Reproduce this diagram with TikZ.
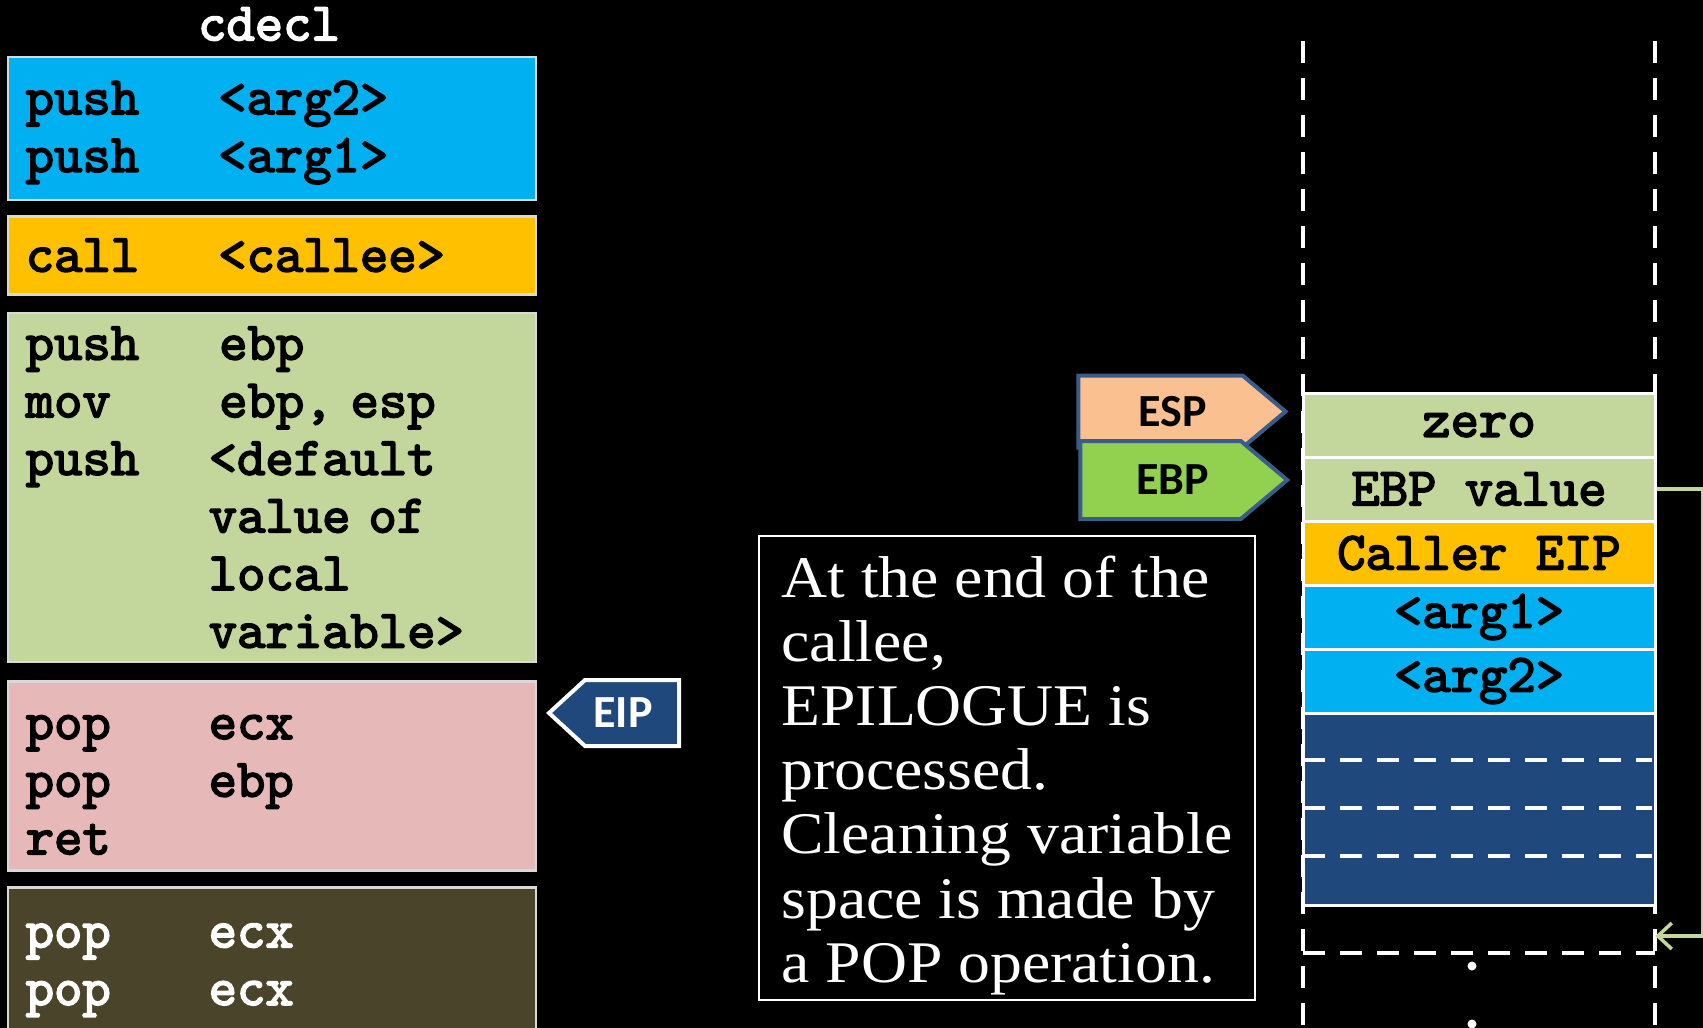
\documentclass[tikz,border=0pt]{standalone}
\usepackage{fontspec}
\usepackage{tikz}
\usetikzlibrary{arrows,arrows.meta,calc}
\usetikzlibrary{positioning,shapes}
\newfontfamily\tagfont{Carlito}
\newfontfamily\notefont[FakeStretch=1.08]{Liberation Serif}
\newfontfamily\asmfont[FakeBold=3]{lmmono10-regular.otf}
\definecolor{argblue}{HTML}{00B0F0}
\definecolor{callorange}{HTML}{FFC000}
\definecolor{prolgreen}{HTML}{C3D69B}
\definecolor{epilpink}{HTML}{E6B9B8}
\definecolor{cleanolive}{HTML}{4A452A}
\definecolor{regblue}{HTML}{1F497D}
\definecolor{tagedge}{HTML}{385D8A}
\definecolor{espfill}{HTML}{FAC090}
\definecolor{ebpfill}{HTML}{92D050}
\newcommand{\asm}{\asmfont\fontsize{54}{57.6}\selectfont}
\newcommand{\op}[2][192.5pt]{\makebox[#1][l]{#2}}
\tikzstyle{code}=[rectangle, draw=white!85!black, line width=2.5pt, text=black,
		minimum width=528pt, text width=492pt, inner xsep=18pt, inner ysep=0pt,
		align=left, font=\asm]
\tikzstyle{cell}=[rectangle, draw=white, line width=3pt, text=black,
		minimum width=352pt, minimum height=64pt, inner sep=0pt, font=\asm]
\tikzstyle{wall}=[white, line width=4pt, dash pattern=on 22pt off 15pt]
\tikzstyle{regtag}=[signal, line width=4pt, minimum width=207pt, inner sep=0pt,
		signal pointer angle=80, font=\tagfont\bfseries\fontsize{46}{46}\selectfont]

\begin{document}
\begin{tikzpicture}[x=1pt, y=1pt]

  \fill[black] (0,0) rectangle (1703,-1028);
  \useasboundingbox (0,0) rectangle (1703,-1028);

  \node (title) at (269,-24) [text=white, font=\asm] {cdecl};

  % caller and callee code
  \node (args) [code, fill=argblue, minimum height=143pt, anchor=north west]
    at (6.5,-55.5) {
      \rule{0pt}{42pt}\op{push}<arg2>\\
      \op{push}<arg1>
    };

  \node (call) [code, fill=callorange, minimum height=78pt,
                below=14pt of args.south west, anchor=north west] {
      \op{call}<callee>
    };

  \node (prolog) [code, fill=prolgreen, minimum height=349pt,
                  below=16pt of call.south west, anchor=north west] {
      \op[193.5pt]{push}ebp\\
      \op[193.5pt]{mov}ebp, esp\\
      \op[183pt]{push}<default\\
      \op[183pt]{}value of\\
      \op[183pt]{}local\\
      \op[183pt]{}variable>
    };

  \node (epilog) [code, fill=epilpink, minimum height=189pt,
                  below=17pt of prolog.south west, anchor=north west] {
      \rule{0pt}{42pt}\op[183pt]{pop}ecx\\
      \op[183pt]{pop}ebp\\
      ret
    };

  \node (clean) [code, fill=cleanolive, text=white, minimum height=166pt,
                 below=14.5pt of epilog.south west, anchor=north west] {
      \op[183pt]{pop}ecx\\
      \op[183pt]{pop}ecx
    };

  \node (eip) [regtag, signal to=west, signal pointer angle=85, fill=regblue,
               draw=white, text=white, minimum width=130pt, minimum height=66pt]
    at (632,-713) {\hspace*{-18pt}EIP};

  % stack
  \draw[wall] (1303,-41) -- (1303,-1040);
  \draw[wall] (1655,-41) -- (1655,-1040);

  \node (zero) [cell, fill=prolgreen] at (1479,-425) {zero};
  \node (ebpv) [cell, fill=prolgreen, below of=zero, node distance=64pt] {EBP value};
  \node (ceip) [cell, fill=callorange, below of=ebpv, node distance=64pt] {Caller EIP};
  \node (arg1) [cell, fill=argblue, below of=ceip, node distance=64pt] {<arg1>};
  \node (arg2) [cell, fill=argblue, below of=arg1, node distance=64pt] {<arg2>};
  \node (locals) [cell, fill=regblue, minimum height=192pt,
                  below of=arg2, node distance=128pt] {};
  \foreach \k in {1,2,3}
    \draw[wall] ($(locals.north west)+(1.5,-48*\k)$) -- ++(349,0);

  \node (free) [rectangle, minimum width=352pt, minimum height=48pt, inner sep=0pt,
                below of=locals, node distance=120pt] {};
  \draw[wall] (free.south west) -- (free.south east);
  \fill[white] (1472,-966) circle (4.5);
  \fill[white] (1472,-1024) circle (4.5);

  \draw[prolgreen, line width=3.5pt, -{Straight Barb[length=14pt,width=26pt]}]
    (ebpv.east) -- ++(46,0) |- ([yshift=-7pt]free.east);

  % registers
  \node (esp) [regtag, signal to=east, fill=espfill, draw=tagedge,
               minimum height=72pt] at (1160.5,-411.5) {\hspace*{24pt}ESP};
  \node (ebp) [regtag, signal to=east, fill=ebpfill, draw=tagedge,
               minimum height=78pt] at (1160.5,-480) {\hspace*{24pt}EBP};

  \node (note) [rectangle, draw=white, line width=2pt, text=white,
                minimum width=496.5pt, minimum height=463.5pt, align=left,
                font=\notefont\fontsize{59}{64.2}\selectfont] at (1007,-768) {
      \rule{0pt}{56pt}At the end of the\\
      callee,\\
      EPILOGUE is\\
      processed.\\
      Cleaning variable\\
      space is made by\\
      a POP operation.
    };

\end{tikzpicture}
\end{document}
